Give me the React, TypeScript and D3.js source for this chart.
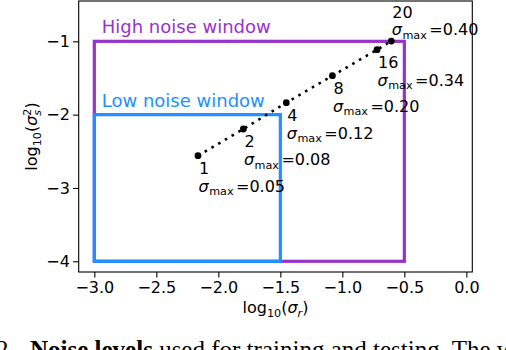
import { useEffect, useRef } from "react";
import * as d3 from "d3";

// points along the noise schedule
const stepLabels = ["1", "2", "4", "8", "16", "20"];
const sigmaMaxLabels = ["0.05", "0.08", "0.12", "0.20", "0.34", "0.40"];
const logSigmaR = [-2.164, -1.798, -1.452, -1.08, -0.72, -0.605];
const logSigmaS2 = [-2.56, -2.196, -1.837, -1.469, -1.114, -0.996];

// noise windows: [min, max] in log10(sigma_r) and log10(sigma_s^2)
const windowNames = ["High noise window", "Low noise window"];
const windowR = [[-3, -0.5], [-3, -1.5]];
const windowS = [[-4, -1], [-4, -2]];
const windowLabelR = [-2.94, -2.94];
const windowLabelS = [-0.887, -1.892];
const windowColors = ["#9932CC", "#1E90FF"];

const xTicks = [-3.0, -2.5, -2.0, -1.5, -1.0, -0.5, 0.0];
const yTicks = [-1, -2, -3, -4];

const FONT = "DejaVu Sans";

function App() {
  const svgRef = useRef<SVGSVGElement>(null);

  useEffect(() => {
    const width = 506;
    const height = 350;
    const box = { left: 78.7, right: 472.3, top: 1, bottom: 272 };

    const svg = d3.select(svgRef.current).attr("width", width).attr("height", height);
    svg.selectAll("*").remove();

    const x = d3.scaleLinear().domain([-3.126, 0.048]).range([box.left, box.right]);
    const y = d3.scaleLinear().domain([-4.146, -0.45]).range([box.bottom, box.top]);

    // windows
    windowNames.forEach((name, i) => {
      svg.append("rect")
        .attr("x", x(windowR[i][0]))
        .attr("y", y(windowS[i][1]))
        .attr("width", x(windowR[i][1]) - x(windowR[i][0]))
        .attr("height", y(windowS[i][0]) - y(windowS[i][1]))
        .attr("fill", "none")
        .attr("stroke", windowColors[i])
        .attr("stroke-width", 3.2);
      svg.append("text")
        .attr("x", x(windowLabelR[i]))
        .attr("y", y(windowLabelS[i]))
        .attr("font-family", FONT)
        .attr("font-size", 18)
        .attr("fill", windowColors[i])
        .text(name);
    });

    // schedule line
    const idx = d3.range(stepLabels.length);
    const line = d3.line<number>()
      .x(i => x(logSigmaR[i]))
      .y(i => y(logSigmaS2[i]));
    svg.append("path")
      .datum(idx)
      .attr("fill", "none")
      .attr("stroke", "black")
      .attr("stroke-width", 2.6)
      .attr("stroke-dasharray", "2.6,5.2")
      .attr("d", line);
    svg.selectAll("circle.pt")
      .data(idx)
      .join("circle")
      .attr("class", "pt")
      .attr("cx", i => x(logSigmaR[i]))
      .attr("cy", i => y(logSigmaS2[i]))
      .attr("r", 3.4)
      .attr("fill", "black");

    // annotations
    idx.forEach(i => {
      const px = x(logSigmaR[i]);
      const py = y(logSigmaS2[i]);
      const above = i === idx.length - 1;
      svg.append("text")
        .attr("x", px + 1)
        .attr("y", py + (above ? -23 : 18))
        .attr("font-family", FONT)
        .attr("font-size", 16)
        .text(stepLabels[i]);
      const t = svg.append("text")
        .attr("x", px + 0.5)
        .attr("y", py + (above ? -6 : 36))
        .attr("font-family", FONT)
        .attr("font-size", 16);
      t.append("tspan").attr("font-style", "italic").text("σ");
      t.append("tspan").attr("font-size", 11.2).attr("dx", 0.5).attr("dy", 3.5).text("max");
      t.append("tspan").attr("dx", 2.5).attr("dy", -3.5).text("=" + sigmaMaxLabels[i]);
    });

    // axes
    const xAxis = svg.append("g")
      .attr("transform", `translate(0,${box.bottom})`)
      .call(d3.axisBottom(x).tickValues(xTicks).tickFormat(d3.format(".1f")).tickSize(5.6).tickPadding(4.5));
    const yAxis = svg.append("g")
      .attr("transform", `translate(${box.left},0)`)
      .call(d3.axisLeft(y).tickValues(yTicks).tickFormat(d3.format("d")).tickSize(5.6).tickPadding(3.2));
    [xAxis, yAxis].forEach(g => {
      g.select(".domain").remove();
      g.selectAll("line").attr("stroke", "black").attr("stroke-width", 1.1);
      g.selectAll("text")
        .attr("font-family", FONT)
        .attr("font-size", 16)
        .attr("fill", "black");
    });

    svg.append("rect")
      .attr("x", box.left)
      .attr("y", box.top)
      .attr("width", box.right - box.left)
      .attr("height", box.bottom - box.top)
      .attr("fill", "none")
      .attr("stroke", "black")
      .attr("stroke-width", 1.1);

    // axis labels
    const xl = svg.append("text")
      .attr("x", (box.left + box.right) / 2)
      .attr("y", 313)
      .attr("text-anchor", "middle")
      .attr("font-family", FONT)
      .attr("font-size", 16);
    xl.append("tspan").text("log");
    xl.append("tspan").attr("font-size", 11.2).attr("dy", 3.5).text("10");
    xl.append("tspan").attr("dy", -3.5).text("(");
    xl.append("tspan").attr("font-style", "italic").text("σ");
    xl.append("tspan").attr("font-style", "italic").attr("font-size", 11.2).attr("dy", 3.5).text("r");
    xl.append("tspan").attr("dy", -3.5).text(")");

    const yl = svg.append("text")
      .attr("transform", `translate(37,${(box.top + box.bottom) / 2}) rotate(-90)`)
      .attr("text-anchor", "middle")
      .attr("font-family", FONT)
      .attr("font-size", 16);
    yl.append("tspan").text("log");
    yl.append("tspan").attr("font-size", 11.2).attr("dy", 3.5).text("10");
    yl.append("tspan").attr("dy", -3.5).text("(");
    yl.append("tspan").attr("font-style", "italic").text("σ");
    yl.append("tspan").attr("font-style", "italic").attr("font-size", 11.2).attr("dy", 4).text("s");
    yl.append("tspan").attr("font-size", 11.2).attr("dx", -5.8).attr("dy", -10).text("2");
    yl.append("tspan").attr("dy", 6).text(")");

    // caption, cut off at the bottom edge
    const cap = svg.append("text")
      .attr("y", 358)
      .attr("font-family", "Liberation Serif")
      .attr("font-size", 25)
      .attr("fill", "black");
    cap.append("tspan").attr("x", -4).text("2.");
    cap.append("tspan").attr("x", 30).attr("font-weight", "bold").text("Noise levels");
    cap.append("tspan").text(" used for training and testing. The w");
  }, []);

  return (
    <div style={{ position: "absolute", left: 0, top: 0 }}>
      <svg ref={svgRef} style={{ display: "block" }}></svg>
    </div>
  );
}

export default App;
